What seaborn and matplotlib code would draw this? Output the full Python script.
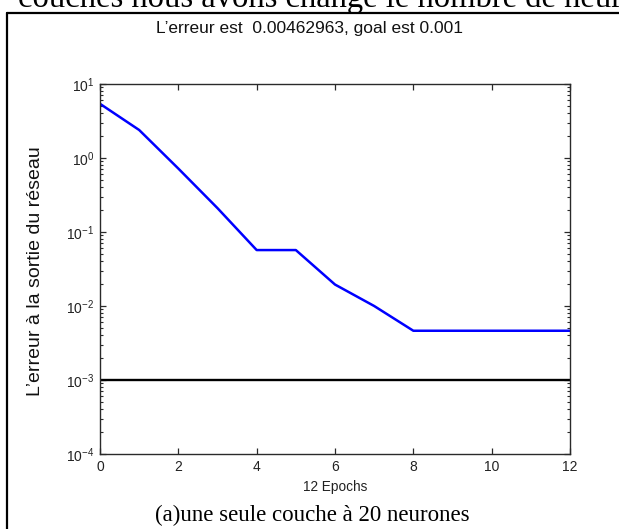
import matplotlib
matplotlib.use("Agg")
import matplotlib.pyplot as plt
from matplotlib.lines import Line2D
from matplotlib.ticker import FixedLocator, FixedFormatter, LogLocator, NullFormatter
import seaborn as sns
import pandas as pd

# training error per epoch and the performance goal
epochs = [0, 1, 2, 3, 4, 5, 6, 7, 8, 9, 10, 11, 12]
error = [5.4, 2.39, 0.72, 0.21, 0.057, 0.057, 0.0195, 0.0100,
         0.00463, 0.00463, 0.00463, 0.00463, 0.00462963]
goal = 0.001

x_ticks = [0, 2, 4, 6, 8, 10, 12]
y_ticks = [1e-4, 1e-3, 1e-2, 1e-1, 1e0, 1e1]
y_tick_labels = [r"$\mathregular{10^{-4}}$", r"$\mathregular{10^{-3}}$",
                 r"$\mathregular{10^{-2}}$", r"$\mathregular{10^{-1}}$",
                 r"$\mathregular{10^{0}}$", r"$\mathregular{10^{1}}$"]

title_text = "L\u2019erreur est  0.00462963, goal est 0.001"
x_label = "12 Epochs"
y_label = "L\u2019erreur à la sortie du réseau"
caption = "(a)une seule couche à 20 neurones"
body_text = "couches nous avons changé le nombre de neurones"

sns.set_theme(style="ticks")
plt.rcParams["font.family"] = ["Liberation Sans", "DejaVu Sans"]

W, H = 619, 529
fig = plt.figure(figsize=(W / 100, H / 100), dpi=100)
fig.patch.set_facecolor("white")


def fx(px):
    return px / W


def fy(py):
    return 1 - py / H


ax = fig.add_axes([fx(100), fy(454), fx(470), 370 / H])
ax.set_facecolor("white")

df = pd.DataFrame({"epoch": epochs, "error": error})
sns.lineplot(data=df, x="epoch", y="error", ax=ax, color="#0000ff",
             linewidth=1.8, legend=False)
ax.axhline(goal, color="black", linewidth=1.7)

ax.set_yscale("log")
ax.set_xlim(0, 12)
ax.set_ylim(1e-4, 1e1)

ax.xaxis.set_major_locator(FixedLocator(x_ticks))
ax.yaxis.set_major_locator(FixedLocator(y_ticks))
ax.yaxis.set_major_formatter(FixedFormatter(y_tick_labels))
ax.yaxis.set_minor_locator(LogLocator(base=10, subs=range(2, 10), numticks=20))
ax.yaxis.set_minor_formatter(NullFormatter())

edge = "#2a2a2a"
for s in ax.spines.values():
    s.set_color(edge)
    s.set_linewidth(1.0)
ax.tick_params(which="both", direction="in", top=True, right=True,
               color=edge, labelcolor="#222222", labelsize=10)
ax.tick_params(which="major", length=4.0, width=0.9, pad=4)
ax.tick_params(which="minor", length=2.2, width=0.8)

ax.set_xlabel("")
ax.set_ylabel("")

fig.text(fx(310), fy(28), title_text, ha="center", va="center",
         fontsize=12.5, color="#111111")
fig.text(fx(335), fy(487), x_label, ha="center", va="center",
         fontsize=9.8, color="#222222")
fig.text(fx(36), fy(271), y_label, ha="center", va="center",
         rotation=90, fontsize=14, color="#111111")

serif = ["Liberation Serif", "DejaVu Serif"]
fig.text(fx(312), fy(515), caption, ha="center", va="center",
         fontsize=16.5, family=serif, color="black")
fig.text(fx(18), fy(7), body_text, ha="left", va="baseline",
         fontsize=23.5, family=serif, color="black")

# frame around the figure
fig.add_artist(Line2D([fx(7), fx(7)], [fy(13), fy(530)], color="black",
                      linewidth=1.6, transform=fig.transFigure))
fig.add_artist(Line2D([fx(7), fx(620)], [fy(13), fy(13)], color="black",
                      linewidth=1.6, transform=fig.transFigure))

fig.savefig("out.png", dpi=100, facecolor="white")
